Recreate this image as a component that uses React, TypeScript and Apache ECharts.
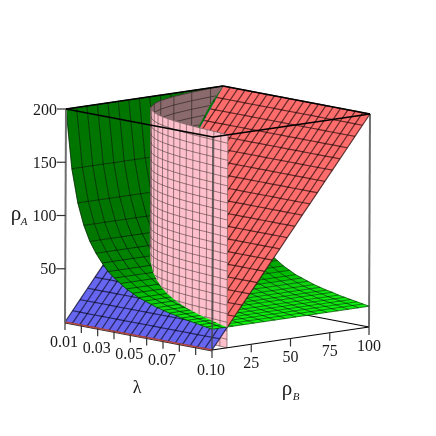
import React, { useEffect, useRef } from "react";
import * as echarts from "echarts";

// ---- axis ticks and labels
const lambdaTicks = [0.01, 0.02, 0.03, 0.04, 0.05, 0.06, 0.07, 0.08, 0.09, 0.1];
const lambdaLabels = ["0.01", "", "0.03", "", "0.05", "", "0.07", "", "", "0.10"];
const rhoBTicks = [25, 50, 75, 100];
const rhoBLabels = ["25", "50", "75", "100"];
const rhoATicks = [50, 100, 150, 200];
const rhoALabels = ["50", "100", "150", "200"];

// ---- green surface: rhoA read along lambda, constant along rhoB
const greenLambda = [0.01, 0.01375, 0.0175, 0.02125, 0.025, 0.02875, 0.0325, 0.03625, 0.04, 0.04375, 0.0475, 0.05125, 0.055, 0.05875, 0.0625, 0.06625, 0.07, 0.07375, 0.0775, 0.08125, 0.085, 0.08875, 0.0925, 0.09625, 0.1];
const greenRhoA = [200, 145, 114, 94, 80, 70, 62, 55, 50, 46, 42, 39, 36, 34, 32, 30, 28.5, 27, 26, 24.5, 23.5, 22.5, 21.5, 20.5, 19.5];
const greenShade = [118, 118, 118, 120, 124, 130, 138, 148, 158, 170, 180, 190, 198, 206, 212, 218, 222, 226, 230, 234, 236, 238, 240, 242, 244];
const greenRhoB = [0, 6.7, 13.3, 20, 26.7, 33.3, 40, 46.7, 53.3, 60, 66.7, 73.3, 80, 86.7, 93.3, 100];

// ---- inclined plane: rhoA read along rhoB, constant along lambda
const planeLambda = [0.01, 0.0145, 0.019, 0.0235, 0.028, 0.0325, 0.037, 0.0415, 0.046, 0.0505, 0.055, 0.0595, 0.064, 0.0685, 0.073, 0.0775, 0.082, 0.0865, 0.091, 0.0955, 0.1];
const planeRhoB = [0, 4.8, 9.5, 14.3, 19, 23.8, 28.6, 33.3, 38.1, 42.9, 47.6, 52.4, 57.1, 61.9, 66.7, 71.4, 76.2, 81, 85.7, 90.5, 95.2, 100];
const planeRhoA = [0, 9.5, 19, 28.6, 38, 47.6, 57.1, 66.7, 76.2, 85.7, 95.2, 104.8, 114.3, 123.8, 133.3, 142.9, 152.4, 162, 171.4, 181, 190.5, 200];

// ---- vertical wall: trace on the lambda / rhoB floor
const wallNearLambda = [0.1, 0.095, 0.09, 0.085, 0.08, 0.075, 0.07, 0.065, 0.06, 0.055, 0.05, 0.045, 0.04, 0.035, 0.03];
const wallNearRhoB = [9.5, 10.2, 11, 11.8, 12.5, 13.3, 14.3, 15.4, 16.7, 18.2, 20, 22.2, 25, 28.6, 33.3];
const wallFarLambda = [0.03, 0.024, 0.02, 0.016, 0.013, 0.011, 0.01];
const wallFarRhoB = [33.3, 41.7, 50, 62.5, 77, 91, 100];
const wallRhoA = [0, 8, 16, 24, 32, 40, 48, 56, 64, 72, 80, 88, 96, 104, 112, 120, 128, 136, 144, 152, 160, 168, 176, 184, 192, 200];

type V = { l: number; b: number; a: number; e?: boolean };
type Cell = { pts?: number[][]; fill?: string; seg?: number[]; stroke?: string; width?: number };

const project = (v: V) => {
  const u = (v.l - 0.01) / 0.09;
  const t = v.b / 100;
  const w = v.a / 200;
  return [65 + 147 * u + 157 * t + 1 * w, 322 + 28 * u - 23 * t - 213 * w];
};

const greenAt = (l: number) => {
  for (let i = 0; i < greenLambda.length - 1; i++) {
    if (l <= greenLambda[i + 1]) {
      const r = (l - greenLambda[i]) / (greenLambda[i + 1] - greenLambda[i]);
      return greenRhoA[i] + (greenRhoA[i + 1] - greenRhoA[i]) * r;
    }
  }
  return greenRhoA[greenRhoA.length - 1];
};

// keep the part of a polygon where g >= 0; each vertex flags whether the edge leaving it is a grid line
const clip = (poly: V[], g: (v: V) => number) => {
  const out: V[] = [];
  poly.forEach((A, i) => {
    const B = poly[(i + 1) % poly.length];
    const ga = g(A);
    const gb = g(B);
    if (ga >= 0) out.push(A);
    if (ga >= 0 !== gb >= 0) {
      const r = ga / (ga - gb);
      out.push({
        l: A.l + (B.l - A.l) * r,
        b: A.b + (B.b - A.b) * r,
        a: A.a + (B.a - A.a) * r,
        e: ga >= 0 ? false : A.e,
      });
    }
  });
  return out;
};

const surface = (
  nI: number,
  nJ: number,
  at: (i: number, j: number) => V,
  fill: (i: number, j: number) => string,
  keep: ((v: V) => number) | null,
  stroke: string,
  width: number
) => {
  const fills: Cell[] = [];
  const lines: Cell[] = [];
  for (let i = 0; i < nI - 1; i++) {
    for (let j = 0; j < nJ - 1; j++) {
      let q: V[] = [at(i, j), at(i + 1, j), at(i + 1, j + 1), at(i, j + 1)].map((v) => ({ ...v }));
      // draw each shared grid edge once: outer edges only on the last column and row
      q[0].e = true;
      q[1].e = i + 1 === nI - 1;
      q[2].e = j + 1 === nJ - 1;
      q[3].e = true;
      if (keep) q = clip(q, keep);
      if (q.length < 3) continue;
      fills.push({ pts: q.map(project), fill: fill(i, j) });
      q.forEach((A, k) => {
        if (!A.e) return;
        const B = q[(k + 1) % q.length];
        const p = project(A);
        const r = project(B);
        lines.push({ seg: [p[0], p[1], r[0], r[1]], stroke, width });
      });
    }
  }
  return [...fills, ...lines];
};

const greenCell = (i: number, j: number) => ({ l: greenLambda[i], b: greenRhoB[j], a: greenRhoA[i] });
const greenFill = (i: number) => `rgb(${i > 12 ? 14 : 0},${greenShade[i]},${i > 12 ? 14 : 0})`;
const greenBack = surface(greenLambda.length, greenRhoB.length, greenCell, greenFill, (v) => 2 * v.b - v.a, "rgba(0,0,0,0.5)", 1);
const greenFront = surface(greenLambda.length, greenRhoB.length, greenCell, greenFill, (v) => v.a - 2 * v.b, "rgba(0,0,0,0.55)", 1);

const planeCell = (i: number, j: number) => ({ l: planeLambda[i], b: planeRhoB[j], a: planeRhoA[j] });
const planeAbove = surface(planeLambda.length, planeRhoB.length, planeCell, () => "#ff6c6c", (v) => v.a - greenAt(v.l), "rgba(20,0,0,0.66)", 1.2);
const planeBelow = surface(planeLambda.length, planeRhoB.length, planeCell, () => "#6666f0", (v) => greenAt(v.l) - v.a, "rgba(0,0,20,0.66)", 1.2);

const wallKeep = (v: V) => v.a - Math.max(2 * v.b, greenAt(v.l));
const wall = (ls: number[], bs: number[], color: string, keep: (v: V) => number, stroke: string) =>
  surface(
    ls.length,
    wallRhoA.length,
    (i, j) => ({ l: ls[i], b: bs[i], a: wallRhoA[j] }),
    () => color,
    keep,
    stroke,
    1
  );
const PINK = "#ffc0cb";
const MAUVE = "#8b6a6e";
const wallLower = wall(wallNearLambda, wallNearRhoB, PINK, (v) => -wallKeep(v), "rgba(50,40,40,0.5)");
const wallFar = wall(wallFarLambda, wallFarRhoB, MAUVE, wallKeep, "rgba(40,30,30,0.6)");
const wallNear = wall(wallNearLambda, wallNearRhoB, PINK, wallKeep, "rgba(50,40,40,0.5)");

const edge = (a: V, b: V, stroke: string, width: number, shift = 0): Cell => {
  const p = project(a);
  const r = project(b);
  return { seg: [p[0], p[1] + shift, r[0], r[1] + shift], stroke, width };
};
const P = (l: number, b: number, a: number): V => ({ l, b, a });
const GREY = "#6e6e6e";
const backEdges: Cell[] = [
  edge(P(0.01, 100, 0), P(0.1, 100, 0), "#000", 1.2),
  edge(P(0.01, 100, 0), P(0.01, 100, 200), GREY, 1.2),
  edge(P(0.01, 100, 0), P(0.01, 0, 0), "#000", 1),
  edge(P(0.1, 100, 0), P(0.1, 100, 200), GREY, 2),
];
const tick = (v: V, dx: number, dy: number, stroke: string): Cell => {
  const p = project(v);
  return { seg: [p[0], p[1], p[0] + dx, p[1] + dy], stroke, width: 1.2 };
};
const frontEdges: Cell[] = [
  edge(P(0.01, 0, 0), P(0.1, 0, 0), "#111", 0.9, 1),
  edge(P(0.01, 0, 0), P(0.1, 0, 0), "#b8483f", 1.3),
  edge(P(0.01, 0, 0), P(0.01, 0, 200), GREY, 2),
  edge(P(0.1, 0, 0), P(0.1, 0, 200), "rgba(70,70,70,0.85)", 1.6),
  edge(P(0.01, 0, 200), P(0.1, 0, 200), "#000", 1.3),
  edge(P(0.1, 0, 200), P(0.1, 100, 200), "#000", 1.3),
  edge(P(0.01, 0, 200), P(0.01, 100, 200), "#000", 1.5),
  edge(P(0.01, 100, 200), P(0.1, 100, 200), "#000", 1.5),
  edge(P(0.1, 0, 0), P(0.1, 100, 0), "#000", 1.2),
  ...lambdaTicks.map((l) => tick(P(l, 0, 0), 0, 8, "#333")),
  ...rhoBTicks.map((b) => tick(P(0.1, b, 0), 0, 8, "#333")),
  ...rhoATicks.map((a) => tick(P(0.01, 0, a), -9, 0, "#333")),
];

type Label = { text: string; x: number; y: number; size: number; align: string; italic?: boolean };
const labelAt = (v: V, dx: number, dy: number, text: string, align = "center"): Label => {
  const p = project(v);
  return { text, x: p[0] + dx, y: p[1] + dy, size: 16, align };
};
const labels: Label[] = [
  ...lambdaTicks.map((l, i) => labelAt(P(l, 0, 0), -1, 19, lambdaLabels[i])).filter((d) => d.text),
  ...rhoBTicks.map((b, i) => labelAt(P(0.1, b, 0), 0, 18, rhoBLabels[i])),
  ...rhoATicks.map((a, i) => labelAt(P(0.01, 0, a), -9, 0, rhoALabels[i], "right")),
  { text: "λ", x: 137, y: 387, size: 18, align: "center" },
  { text: "ρ", x: 287, y: 388, size: 21, align: "center" },
  { text: "B", x: 296, y: 396, size: 11, align: "center", italic: true },
  { text: "ρ", x: 16, y: 213, size: 21, align: "center" },
  { text: "A", x: 24, y: 221, size: 11, align: "center", italic: true },
];

const cellSeries = (cells: Cell[], z: number) => ({
  type: "custom",
  coordinateSystem: "cartesian2d",
  silent: true,
  clip: false,
  z,
  data: cells.map((_, i) => [i]),
  encode: { x: 0, y: 0 },
  renderItem: (params: any, api: any) => {
    const c = cells[params.dataIndex];
    if (c.pts) {
      return {
        type: "polygon",
        shape: { points: c.pts.map((p) => api.coord(p)) },
        style: { fill: c.fill, stroke: c.fill, lineWidth: 0.5 },
      };
    }
    const a = api.coord([c.seg![0], c.seg![1]]);
    const b = api.coord([c.seg![2], c.seg![3]]);
    return {
      type: "line",
      shape: { x1: a[0], y1: a[1], x2: b[0], y2: b[1] },
      style: { stroke: c.stroke, lineWidth: c.width, fill: null },
    };
  },
});

const labelSeries = {
  type: "custom",
  coordinateSystem: "cartesian2d",
  silent: true,
  clip: false,
  z: 20,
  data: labels.map((_, i) => [i]),
  encode: { x: 0, y: 0 },
  renderItem: (params: any, api: any) => {
    const d = labels[params.dataIndex];
    const p = api.coord([d.x, d.y]);
    return {
      type: "text",
      style: {
        text: d.text,
        x: p[0],
        y: p[1],
        fill: "#1a1a1a",
        fontFamily: '"Liberation Serif", serif',
        fontSize: d.size,
        fontStyle: d.italic ? "italic" : "normal",
        align: d.align,
        verticalAlign: "middle",
      },
    };
  },
};

export default function App() {
  const ref = useRef<HTMLDivElement>(null);
  useEffect(() => {
    document.body.style.margin = "0";
    const chart = echarts.init(ref.current!, null, { renderer: "svg" });
    chart.setOption({
      animation: false,
      backgroundColor: "#fff",
      grid: { left: 0, right: 0, top: 0, bottom: 0 },
      xAxis: { type: "value", min: 0, max: 436, show: false },
      yAxis: { type: "value", min: 0, max: 436, inverse: true, show: false },
      series: [
        cellSeries(backEdges, 1),
        cellSeries(greenBack, 2),
        cellSeries(wallLower, 3),
        cellSeries(planeAbove, 4),
        cellSeries(planeBelow, 5),
        cellSeries(greenFront, 6),
        cellSeries(wallFar, 7),
        cellSeries(wallNear, 8),
        cellSeries(frontEdges, 9),
        labelSeries,
      ],
    });
    return () => chart.dispose();
  }, []);
  return <div ref={ref} style={{ width: 436, height: 436, filter: "blur(0.4px)" }} />;
}
